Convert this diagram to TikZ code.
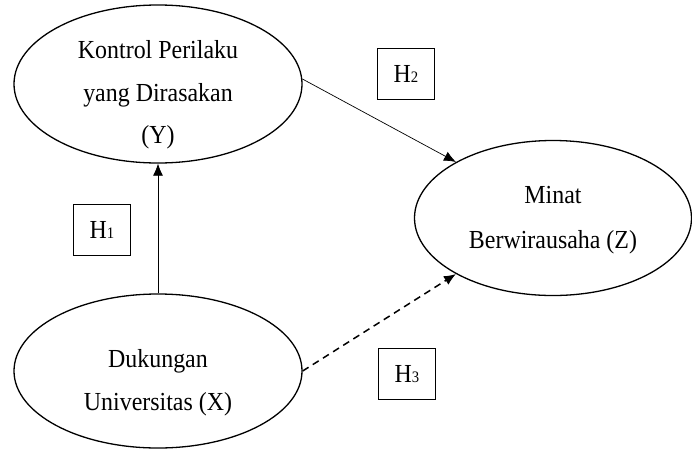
\documentclass[tikz,border=0pt]{standalone}
\usepackage{fontspec}
\setmainfont{Liberation Serif}[FakeStretch=0.92]
\usetikzlibrary{shapes.geometric,arrows.meta}
\begin{document}
\begin{tikzpicture}[x=1pt,y=-1pt,
  ell/.style={draw,ellipse,line width=1.3pt,inner sep=0pt},
  txt/.style={anchor=base,inner sep=0pt,font=\fontsize{26}{30}\selectfont},
  hbox/.style={draw,line width=1.3pt,minimum width=57pt,minimum height=51pt,inner sep=0pt,font=\fontsize{26}{28}\selectfont},
  arr/.style={line width=0.7pt,-{Latex[length=12pt,width=10pt]}}]
\useasboundingbox (0,0) rectangle (692,450);
\node[ell,minimum width=288pt,minimum height=158pt] (Y) at (158,84) {};
\node[ell,minimum width=288pt,minimum height=154pt] (X) at (158,371) {};
\node[ell,minimum width=277pt,minimum height=155pt] (Z) at (553,218) {};
\node[txt] (Y1) at (158,58) {Kontrol Perilaku};
\node[txt] (Y2) at (158,101) {yang Dirasakan};
\node[txt] (Y3) at (158,143) {(Y)};
\node[txt] (X1) at (158,367) {Dukungan};
\node[txt] (X2) at (158,410) {Universitas (X)};
\node[txt] (Z1) at (553,203) {Minat};
\node[txt] (Z2) at (553,248) {Berwirausaha (Z)};
\newcommand{\hsub}[1]{H\raisebox{0pt}{\fontsize{16}{16}\selectfont #1}}
\node[hbox] (H1) at (102,230) {\hsub{1}};
\node[hbox] (H2) at (406,74) {\hsub{2}};
\node[hbox] (H3) at (407,374) {\hsub{3}};
\draw[arr] (X.north) -- (Y.south);
\draw[arr] (Y.2) -- (Z.150);
\draw[arr,dashed,line width=1.5pt,dash pattern=on 7pt off 5pt] (X.0) -- (Z.210);
\end{tikzpicture}
\end{document}
